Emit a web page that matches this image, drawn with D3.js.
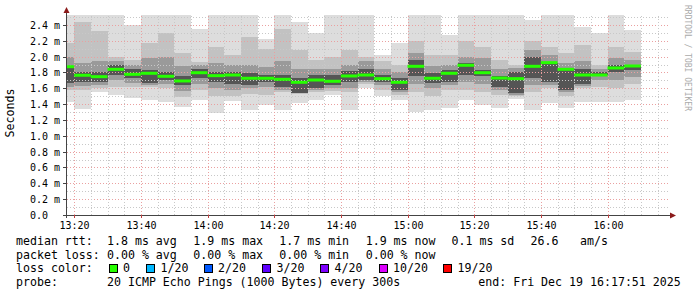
<!DOCTYPE html>
<html>
<head>
<meta charset="utf-8">
<script src="https://cdn.jsdelivr.net/npm/d3@7"></script>
<style>
  body { margin: 0; background: #fff; }
  svg { display: block; }
  text { font-family: "DejaVu Sans Mono", monospace; }
</style>
</head>
<body>
<svg width="697" height="297"></svg>
<script>
// 5-minute slots (start time of each step)
var slots = ["13:15","13:20","13:25","13:30","13:35","13:40","13:45","13:50","13:55",
  "14:00","14:05","14:10","14:15","14:20","14:25","14:30","14:35","14:40","14:45","14:50","14:55",
  "15:00","15:05","15:10","15:15","15:20","15:25","15:30","15:35","15:40","15:45","15:50","15:55",
  "16:00","16:05"];

// rtt values in ms
var median = [1.873,1.765,1.747,1.84,1.777,1.79,1.752,1.693,1.797,1.76,1.768,1.727,1.727,1.714,1.676,1.705,1.689,
  1.756,1.768,1.722,1.676,1.878,1.727,1.79,1.891,1.797,1.73,1.722,1.878,1.924,1.84,1.768,1.768,1.857,1.882];
var pingMax = [2.6,2.6,2.6,2.6,2.4,2.6,2.6,2.6,2.35,2.6,2.6,2.6,2.22,2.6,2.44,2.3,2.6,2.6,2.6,2.02,2.17,
  2.6,2.6,2.27,2.6,2.6,2.6,2.6,2.46,2.6,2.6,2.38,2.3,2.6,2.34];
var pingHi2 = [2.17,2.44,2.32,2.0,1.96,2.17,2.3,2.05,1.93,2.12,2.02,2.25,2.1,2.35,2.08,1.96,2.0,2.08,2.0,1.95,1.9,
  2.2,2.02,2.02,2.2,2.12,1.96,1.9,2.2,2.12,2.05,2.15,1.9,2.12,2.06];
var pingHi1 = [2.0,1.92,1.94,1.95,1.9,1.98,2.0,1.88,1.9,1.92,1.89,1.9,1.87,1.95,1.85,1.84,1.85,1.9,1.95,1.84,1.8,
  2.04,1.88,1.9,2.0,1.98,1.84,1.86,2.08,2.02,1.92,1.95,1.85,1.98,1.96];
var pingHi0 = [1.87,1.81,1.81,1.895,1.85,1.83,1.8,1.75,1.85,1.81,1.8,1.79,1.77,1.77,1.73,1.77,1.77,1.82,1.84,1.77,1.73,
  1.96,1.79,1.83,1.92,1.83,1.75,1.81,2.0,1.92,1.83,1.85,1.81,1.89,1.89];
var pingLo0 = [1.67,1.68,1.68,1.77,1.73,1.67,1.7,1.64,1.73,1.68,1.66,1.64,1.68,1.62,1.54,1.6,1.64,1.68,1.7,1.68,1.58,
  1.75,1.67,1.68,1.77,1.75,1.62,1.54,1.73,1.68,1.58,1.66,1.77,1.81,1.83];
var pingLo1 = [1.62,1.63,1.64,1.7,1.67,1.64,1.65,1.56,1.66,1.6,1.58,1.6,1.62,1.58,1.54,1.58,1.6,1.6,1.68,1.64,1.55,
  1.66,1.6,1.64,1.68,1.66,1.58,1.52,1.64,1.64,1.55,1.63,1.7,1.7,1.74];
var pingLo2 = [1.58,1.58,1.6,1.62,1.62,1.62,1.6,1.49,1.58,1.5,1.5,1.53,1.52,1.55,1.53,1.55,1.56,1.55,1.65,1.58,1.52,
  1.55,1.5,1.58,1.58,1.55,1.52,1.5,1.55,1.6,1.5,1.6,1.62,1.6,1.65];
var pingMin = [1.43,1.34,1.55,1.51,1.48,1.45,1.43,1.36,1.45,1.29,1.44,1.33,1.39,1.33,1.41,1.45,1.52,1.32,1.6,1.5,1.45,
  1.3,1.33,1.35,1.45,1.39,1.35,1.47,1.33,1.41,1.35,1.43,1.43,1.43,1.45];

var yTicks = ["0.0","0.2 m","0.4 m","0.6 m","0.8 m","1.0 m","1.2 m","1.4 m","1.6 m","1.8 m","2.0 m","2.2 m","2.4 m"];
var xTicks = ["13:20","13:40","14:00","14:20","14:40","15:00","15:20","15:40","16:00"];

var rttLegend = ["median rtt:", "1.8 ms avg", "1.9 ms max", "1.7 ms min", "1.9 ms now", "0.1 ms sd", "26.6", "am/s"];
var lossLegend = ["packet loss:", "0.00 % avg", "0.00 % max", "0.00 % min", "0.00 % now"];
var lossNames = ["0", "1/20", "2/20", "3/20", "4/20", "10/20", "19/20"];
var lossColors = ["#26ff00", "#00b8ff", "#0059ff", "#5e00ff", "#7e00ff", "#dd00ff", "#ff0000"];
var probeText = "20 ICMP Echo Pings (1000 Bytes) every 300s";
var endText = "end: Fri Dec 19 16:17:51 2025";

var svg = d3.select("svg");
var parse = d3.timeParse("%H:%M:%S");
var t0 = parse("13:17:51"), t1 = parse("16:17:51");
var pL = 67, pR = 667, pT = 15, pB = 215;

var x = d3.scaleTime().domain([t0, t1]).range([pL, pR]);
var y = d3.scaleLinear().domain([0, 2.526]).range([pB, pT]);

var cols = slots.map(function(s, i) {
  var a = d3.timeParse("%H:%M")(s);
  return {t0: a, t1: d3.timeMinute.offset(a, 5), med: median[i], max: pingMax[i], hi2: pingHi2[i],
          hi1: pingHi1[i], hi0: pingHi0[i], lo0: pingLo0[i], lo1: pingLo1[i], lo2: pingLo2[i], min: pingMin[i]};
});

svg.append("defs").append("clipPath").attr("id", "plot")
  .append("rect").attr("x", pL).attr("y", pT).attr("width", pR - pL).attr("height", pB - pT);

// smoke: outer to inner bands
var smoke = svg.append("g").attr("clip-path", "url(#plot)");
var bands = [["min", "max", "#dddddd"], ["lo2", "hi2", "#c2c2c2"], ["lo1", "hi1", "#9a9a9a"], ["lo0", "hi0", "#555555"]];
bands.forEach(function(b) {
  smoke.selectAll(null).data(cols).enter().append("rect")
    .attr("x", function(d) { return x(d.t0); })
    .attr("width", function(d) { return x(d.t1) - x(d.t0); })
    .attr("y", function(d) { return y(d[b[1]]); })
    .attr("height", function(d) { return y(d[b[0]]) - y(d[b[1]]); })
    .attr("fill", b[2]).attr("shape-rendering", "crispEdges");
});

// grid
var grid = svg.append("g").attr("shape-rendering", "crispEdges").attr("stroke-width", 1);
d3.range(1, 26).forEach(function(k) {
  var major = k % 2 === 0;
  var py = Math.round(y(k / 10)) + 0.5;
  grid.append("line").attr("x1", pL).attr("x2", pR + 1).attr("y1", py).attr("y2", py)
    .attr("stroke", major ? "#eaa0a0" : "#c8c8c8").attr("stroke-dasharray", "1,2");
});
d3.timeMinute.every(5).range(t0, t1).forEach(function(t) {
  var major = t.getMinutes() % 20 === 0;
  var px = Math.round(x(t)) + 0.5;
  grid.append("line").attr("x1", px).attr("x2", px).attr("y1", pB).attr("y2", pT)
    .attr("stroke", major ? "#eaa0a0" : "#c8c8c8").attr("stroke-dasharray", "1,2");
});

// median with loss colour
svg.append("g").attr("clip-path", "url(#plot)").selectAll("rect").data(cols).enter().append("rect")
  .attr("x", function(d) { return x(d.t0); })
  .attr("width", function(d) { return x(d.t1) - x(d.t0); })
  .attr("y", function(d) { return y(d.med) - 1.5; })
  .attr("height", 3)
  .attr("fill", lossColors[0]);

// axes
var axis = svg.append("g").attr("shape-rendering", "crispEdges");
axis.append("line").attr("x1", pL - 0.5).attr("x2", pL - 0.5).attr("y1", pB + 3).attr("y2", 11).attr("stroke", "#444");
axis.append("line").attr("x1", pL - 4).attr("x2", pR + 4).attr("y1", pB + 0.5).attr("y2", pB + 0.5).attr("stroke", "#444");
svg.append("path").attr("d", "M" + (pL - 3.5) + ",13 L" + (pL - 0.5) + ",7 L" + (pL + 2.5) + ",13 Z").attr("fill", "#8b1a1a");
svg.append("path").attr("d", "M" + (pR + 3) + "," + (pB - 2.5) + " L" + (pR + 9) + "," + (pB + 0.5) + " L" + (pR + 3) + "," + (pB + 3.5) + " Z").attr("fill", "#8b1a1a");

yTicks.forEach(function(s, i) {
  var py = Math.round(y(i * 0.2)) + 0.5;
  axis.append("line").attr("x1", pL - 4).attr("x2", pL).attr("y1", py).attr("y2", py).attr("stroke", "#444");
  svg.append("text").attr("x", 30).attr("y", py + 3.5).attr("font-size", 10).attr("fill", "#000").text(s);
});
xTicks.forEach(function(s) {
  var px = Math.round(x(parse(s + ":00"))) + 0.5;
  axis.append("line").attr("x1", px).attr("x2", px).attr("y1", pB).attr("y2", pB + 3).attr("stroke", "#c04040");
  svg.append("text").attr("x", px).attr("y", 228.5).attr("font-size", 10).attr("text-anchor", "middle").attr("fill", "#000").text(s);
});

svg.append("text").attr("transform", "translate(14,113) rotate(-90)").attr("text-anchor", "middle")
  .attr("font-size", 11.6).attr("fill", "#000").text("Seconds");
svg.append("text").attr("transform", "translate(685,5) rotate(90)").attr("font-size", 8)
  .attr("fill", "#aaa").text("RRDTOOL / TOBI OETIKER");

// legend
var colX = [16, 107, 193.3, 279.3, 365.7, 451.5, 530.5, 580];
var fs = 11.6;
rttLegend.forEach(function(s, i) {
  svg.append("text").attr("x", colX[i]).attr("y", 245).attr("font-size", fs).text(s);
});
lossLegend.forEach(function(s, i) {
  svg.append("text").attr("x", colX[i]).attr("y", 258.6).attr("font-size", fs).text(s);
});
svg.append("text").attr("x", 16).attr("y", 272.2).attr("font-size", fs).text("loss color:");
var boxX = [108.5, 146, 203.5, 262, 320, 378.5, 443];
lossNames.forEach(function(s, i) {
  svg.append("rect").attr("x", boxX[i] + 0.5).attr("y", 264.5).attr("width", 8).attr("height", 8)
    .attr("fill", lossColors[i]).attr("stroke", "#000").attr("shape-rendering", "crispEdges");
  svg.append("text").attr("x", boxX[i] + 14.5).attr("y", 272.2).attr("font-size", fs).text(s);
});
svg.append("text").attr("x", 16).attr("y", 285.8).attr("font-size", fs).text("probe:");
svg.append("text").attr("x", 107).attr("y", 285.8).attr("font-size", fs).text(probeText);
svg.append("text").attr("x", 478.3).attr("y", 285.8).attr("font-size", fs).text(endText);
</script>
</body>
</html>
